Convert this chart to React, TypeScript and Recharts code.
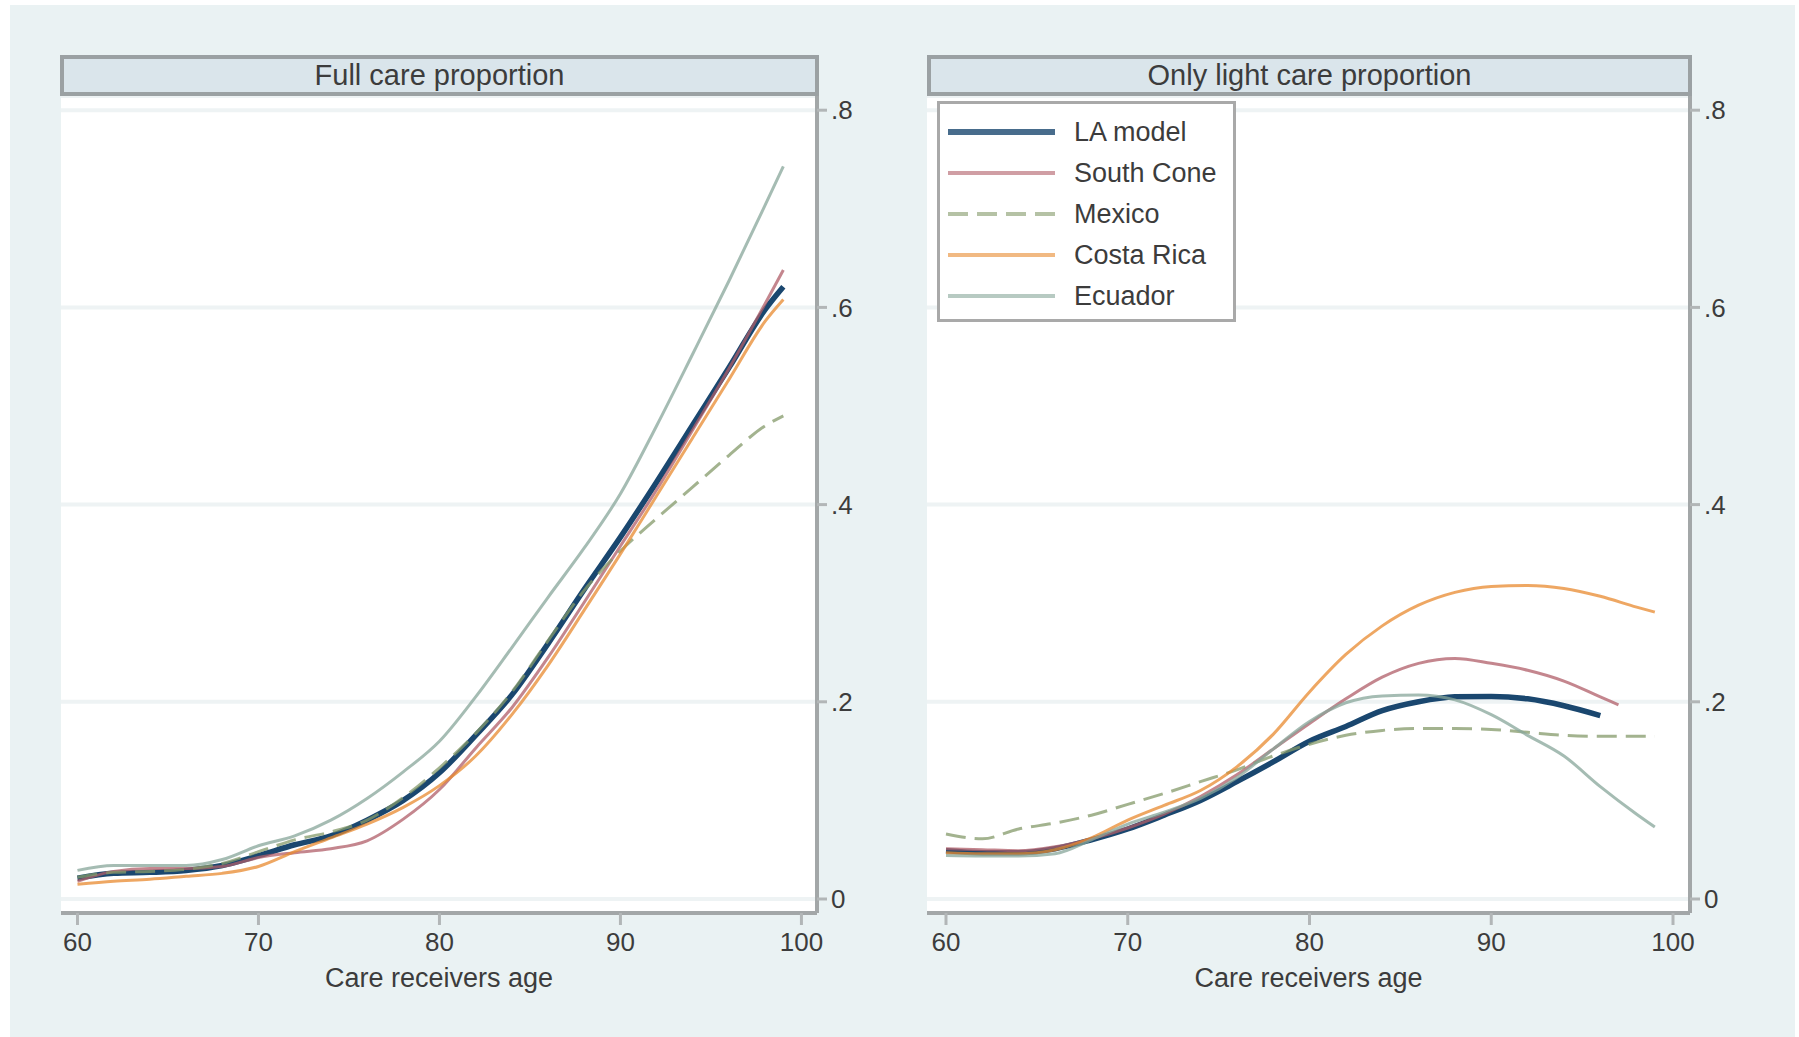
import React from 'react';
import { LineChart, Line, XAxis, YAxis, CartesianGrid, Legend, Label } from 'recharts';

// ---------- data ----------
const ages = [60, 62, 64, 66, 68, 70, 72, 74, 76, 78, 80, 82, 84, 86, 88, 90, 92, 94, 96, 98, 99];
const ageTicks = [60, 70, 80, 90, 100];
const valueTicks = [0, 0.2, 0.4, 0.6, 0.8];

const seriesNames = ['LA model', 'South Cone', 'Mexico', 'Costa Rica', 'Ecuador'];
const panelTitles = ['Full care proportion', 'Only light care proportion'];
const xTitle = 'Care receivers age';

// Full care proportion (left panel)
const fullLA = [0.021, 0.026, 0.027, 0.029, 0.034, 0.044, 0.055, 0.064, 0.08, 0.1, 0.128, 0.166, 0.207, 0.259, 0.314, 0.367, 0.423, 0.481, 0.539, 0.598, 0.621];
const fullSouthCone = [0.018, 0.028, 0.031, 0.031, 0.033, 0.042, 0.047, 0.051, 0.059, 0.081, 0.111, 0.153, 0.194, 0.245, 0.301, 0.358, 0.415, 0.476, 0.538, 0.604, 0.638];
const fullMexico = [0.022, 0.027, 0.028, 0.03, 0.036, 0.048, 0.06, 0.068, 0.08, 0.103, 0.133, 0.168, 0.21, 0.262, 0.313, 0.353, 0.386, 0.418, 0.45, 0.48, 0.49];
const fullCostaRica = [0.015, 0.018, 0.02, 0.023, 0.026, 0.033, 0.048, 0.062, 0.076, 0.093, 0.115, 0.145, 0.187, 0.237, 0.293, 0.35, 0.409, 0.468, 0.527, 0.586, 0.608];
const fullEcuador = [0.029, 0.034, 0.034, 0.034, 0.04, 0.054, 0.064, 0.08, 0.102, 0.129, 0.16, 0.205, 0.255, 0.306, 0.356, 0.411, 0.48, 0.553, 0.627, 0.704, 0.743];

// Only light care proportion (right panel)
const lightLAAges = [60, 62, 64, 66, 68, 70, 72, 74, 76, 78, 80, 82, 84, 86, 88, 90, 92, 94, 96];
const lightLA = [0.049, 0.047, 0.047, 0.051, 0.06, 0.071, 0.085, 0.1, 0.119, 0.139, 0.16, 0.175, 0.191, 0.2, 0.205, 0.2055, 0.203, 0.196, 0.186];
const lightSouthConeAges = [60, 62, 64, 66, 68, 70, 72, 74, 76, 78, 80, 82, 84, 86, 88, 90, 92, 94, 96, 97];
const lightSouthCone = [0.051, 0.05, 0.049, 0.053, 0.061, 0.072, 0.086, 0.104, 0.126, 0.152, 0.178, 0.203, 0.225, 0.239, 0.244, 0.239, 0.232, 0.221, 0.205, 0.197];
const lightMexico = [0.066, 0.061, 0.071, 0.077, 0.085, 0.096, 0.107, 0.119, 0.131, 0.145, 0.157, 0.166, 0.171, 0.173, 0.173, 0.172, 0.169, 0.166, 0.165, 0.165, 0.165];
const lightCostaRica = [0.047, 0.046, 0.046, 0.05, 0.062, 0.08, 0.095, 0.11, 0.134, 0.167, 0.21, 0.248, 0.277, 0.298, 0.311, 0.317, 0.318, 0.315, 0.307, 0.296, 0.291];
const lightEcuador = [0.044, 0.0435, 0.0435, 0.046, 0.06, 0.076, 0.088, 0.102, 0.123, 0.152, 0.18, 0.199, 0.206, 0.207, 0.202, 0.187, 0.166, 0.145, 0.114, 0.086, 0.073];

// ---------- styles ----------
const FONT = '"Liberation Sans", Arial, Helvetica, sans-serif';
const TEXT = '#3c3c3c';
const AXIS = '#a3a7a8';
const seriesStyle = [
  { color: '#1a476f', width: 5.5, opacity: 1, dash: undefined as string | undefined },
  { color: '#b05e68', width: 3, opacity: 0.75, dash: undefined },
  { color: '#849a69', width: 3, opacity: 0.75, dash: '20 9' },
  { color: '#e88a2f', width: 3, opacity: 0.75, dash: undefined },
  { color: '#87a69a', width: 3, opacity: 0.75, dash: undefined },
];

const toPoints = (xs: number[], ys: number[]) => xs.map((age, i) => ({ age, v: ys[i] }));

const fullSeries = [
  toPoints(ages, fullLA),
  toPoints(ages, fullSouthCone),
  toPoints(ages, fullMexico),
  toPoints(ages, fullCostaRica),
  toPoints(ages, fullEcuador),
];
const lightSeries = [
  toPoints(lightLAAges, lightLA),
  toPoints(lightSouthConeAges, lightSouthCone),
  toPoints(ages, lightMexico),
  toPoints(ages, lightCostaRica),
  toPoints(ages, lightEcuador),
];

const fmtY = (v: number) => (v === 0 ? '0' : String(Number(v.toFixed(1))).replace(/^0/, ''));

const LegendBox = () => (
  <div
    style={{
      position: 'relative',
      width: 299,
      height: 221,
      boxSizing: 'border-box',
      border: '3px solid #a9a9a9',
      background: '#ffffff',
      fontFamily: FONT,
    }}
  >
    {seriesNames.map((name, i) => {
      const cy = 28 + i * 41;
      const s = seriesStyle[i];
      return (
        <div key={name} style={{ position: 'absolute', left: 0, top: cy - 16, height: 32, width: 296 }}>
          <svg width={120} height={32} style={{ position: 'absolute', left: 8, top: 0 }}>
            <line
              x1={0}
              x2={107}
              y1={16}
              y2={16}
              stroke={s.color}
              strokeOpacity={i === 0 ? 0.8 : 0.6}
              strokeWidth={i === 0 ? 6 : 4}
              strokeDasharray={s.dash}
            />
          </svg>
          <span
            style={{
              position: 'absolute',
              left: 134,
              top: 0,
              lineHeight: '32px',
              fontSize: 27,
              color: TEXT,
              whiteSpace: 'nowrap',
            }}
          >
            {name}
          </span>
        </div>
      );
    })}
  </div>
);

type PanelProps = {
  left: number;
  width: number;
  marginLeft: number;
  marginRight: number;
  xDomain: [number, number];
  series: { age: number; v: number }[][];
  legend?: boolean;
};

const Panel = ({ left, width, marginLeft, marginRight, xDomain, series, legend }: PanelProps) => (
  <div style={{ position: 'absolute', left, top: 0 }}>
    <LineChart
      width={width}
      height={1037}
      margin={{ top: 96, left: marginLeft, right: marginRight, bottom: 44 }}
      style={{ fontFamily: FONT }}
    >
      <CartesianGrid vertical={false} horizontal={true} fill="#ffffff" stroke="#eef3f4" strokeWidth={4} strokeDasharray="" />
      <XAxis
        dataKey="age"
        type="number"
        domain={xDomain}
        ticks={ageTicks}
        allowDataOverflow
        height={80}
        axisLine={{ stroke: AXIS, strokeWidth: 4 }}
        tickLine={{ stroke: '#b2b6b7', strokeWidth: 3 }}
        tickSize={12}
        tickMargin={8}
        tick={{ fill: TEXT, fontSize: 26, fontFamily: FONT }}
      >
        <Label value={xTitle} position="insideBottom" offset={6} fill={TEXT} fontSize={27} fontFamily={FONT} />
      </XAxis>
      <YAxis
        orientation="right"
        type="number"
        domain={[-0.0142, 0.8144]}
        ticks={valueTicks}
        allowDataOverflow
        width={60}
        axisLine={{ stroke: AXIS, strokeWidth: 4 }}
        tickLine={{ stroke: '#b2b6b7', strokeWidth: 3 }}
        tickSize={10}
        tickMargin={4}
        tickFormatter={fmtY}
        tick={{ fill: TEXT, fontSize: 26, fontFamily: FONT }}
      />
      {legend && (
        <Legend
          layout="vertical"
          align="center"
          verticalAlign="middle"
          content={() => <LegendBox />}
          wrapperStyle={{ position: 'absolute', left: 77, top: 101, width: 299, height: 221 }}
        />
      )}
      {series.map((pts, i) => (
        <Line
          key={seriesNames[i]}
          data={pts}
          dataKey="v"
          name={seriesNames[i]}
          type="monotone"
          stroke={seriesStyle[i].color}
          strokeOpacity={seriesStyle[i].opacity}
          strokeWidth={seriesStyle[i].width}
          strokeDasharray={seriesStyle[i].dash}
          dot={false}
          activeDot={false}
          isAnimationActive={false}
          legendType="line"
        />
      ))}
    </LineChart>
  </div>
);

const Strip = ({ left, width, text }: { left: number; width: number; text: string }) => (
  <div
    style={{
      position: 'absolute',
      left,
      top: 55,
      width,
      height: 41,
      boxSizing: 'border-box',
      border: '4px solid #9ba1a3',
      background: '#dae5eb',
      display: 'flex',
      alignItems: 'center',
      justifyContent: 'center',
      fontFamily: FONT,
      fontSize: 29,
      color: TEXT,
      zIndex: 2,
    }}
  >
    {text}
  </div>
);

export default function App() {
  return (
    <div
      style={{
        position: 'absolute',
        left: 0,
        top: 0,
        width: 1799,
        height: 1037,
        background: '#ffffff',
        overflow: 'hidden',
        fontFamily: FONT,
      }}
    >
      <div style={{ position: 'absolute', left: 10, top: 5, width: 1785, height: 1032, background: '#eaf2f3' }} />
      <Panel left={0} width={900} marginLeft={61} marginRight={23} xDomain={[59.09, 100.86]} series={fullSeries} />
      <Panel
        left={860}
        width={939}
        marginLeft={67}
        marginRight={49}
        xDomain={[58.955, 100.935]}
        series={lightSeries}
        legend
      />
      <Strip left={60} width={759} text={panelTitles[0]} />
      <Strip left={927} width={765} text={panelTitles[1]} />
    </div>
  );
}
